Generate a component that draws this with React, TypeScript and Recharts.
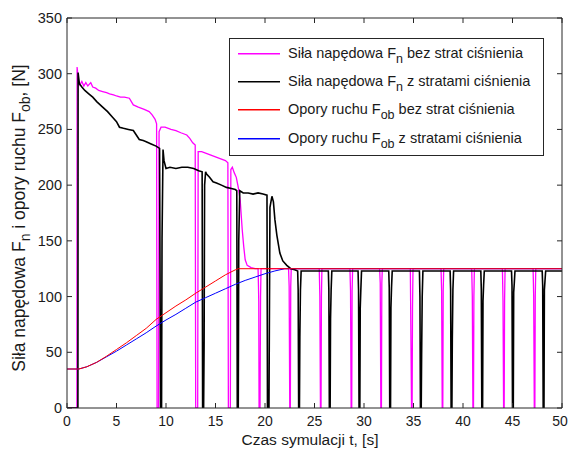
import React from "react";
import { LineChart, Line, XAxis, YAxis, Legend } from "recharts";

const W = 568;
const H = 451;
const FONT = "'Liberation Sans', Arial, sans-serif";
const AXIS = "#262626";

const X_TICKS = [0, 5, 10, 15, 20, 25, 30, 35, 40, 45, 50];
const Y_TICKS = [0, 50, 100, 150, 200, 250, 300, 350];

// [t, F] pairs
const fnBezStrat: [number, number][] = [
  [0, 0], [1.0, 0], [1.02, 306], [1.15, 294], [1.3, 290], [1.5, 293], [1.7, 289], [1.9, 292], [2.1, 289], [2.4, 292],
  [2.6, 288], [2.9, 287], [3.2, 285], [3.6, 284], [4.0, 283], [4.3, 282], [4.7, 281], [5.0, 280], [5.4, 279], [5.8, 279],
  [6.3, 278], [6.5, 275], [6.7, 272], [7.2, 270], [7.8, 268], [8.3, 266], [8.6, 263], [8.9, 259], [9.05, 255],
  [9.1, 0], [9.25, 0], [9.3, 248], [9.5, 252], [9.9, 252], [10.5, 250], [11.0, 249], [11.5, 247], [12.1, 245], [12.4, 242],
  [12.7, 238], [12.95, 236],
  [13.0, 0], [13.2, 0], [13.25, 230], [13.6, 230], [14.2, 228], [14.8, 226], [15.4, 224], [16.0, 222], [16.25, 220],
  [16.3, 0], [16.5, 0], [16.55, 214], [16.7, 216], [16.9, 211], [17.1, 207], [17.3, 198], [17.5, 186], [17.7, 160],
  [17.85, 145], [18.0, 133], [18.2, 128], [18.6, 126], [19.0, 125], [19.3, 125],
  [19.34, 110], [19.37, 95], [19.4, 0], [19.5, 0], [19.55, 100], [19.6, 125],
  [22.38, 125], [22.44, 109], [22.5, 0], [22.56, 0], [22.6, 109], [22.65, 125],
  [25.48, 125], [25.54, 100], [25.6, 0], [25.66, 0], [25.7, 100], [25.75, 125],
  [28.58, 125], [28.64, 105], [28.7, 0], [28.76, 0], [28.8, 105], [28.85, 125],
  [31.58, 125], [31.64, 112], [31.7, 0], [31.76, 0], [31.8, 112], [31.85, 125],
  [34.68, 125], [34.74, 64], [34.8, 0], [34.86, 0], [34.9, 90], [34.95, 125],
  [37.78, 125], [37.84, 105], [37.9, 0], [37.96, 0], [38.0, 105], [38.05, 125],
  [40.88, 125], [40.94, 100], [41.0, 0], [41.06, 0], [41.1, 100], [41.15, 125],
  [43.98, 125], [44.04, 96], [44.1, 0], [44.16, 0], [44.2, 96], [44.25, 125],
  [47.08, 125], [47.14, 100], [47.2, 0], [47.26, 0], [47.3, 100], [47.35, 125],
  [50, 125],
];

const fnZeStratami: [number, number][] = [
  [0, 0], [1.1, 0], [1.12, 301], [1.25, 291], [1.5, 288], [1.8, 285], [2.2, 282], [2.6, 279], [3.0, 275], [3.6, 270],
  [4.1, 266], [4.6, 261], [5.0, 257], [5.3, 252], [5.7, 251], [6.2, 250], [6.7, 249], [7.0, 245], [7.3, 241], [7.7, 240],
  [8.0, 239], [8.5, 237], [9.0, 235], [9.35, 233],
  [9.45, 0], [9.55, 0], [9.6, 152], [9.7, 232], [9.8, 222], [10.0, 215], [10.4, 216], [11.0, 215], [11.6, 216],
  [12.2, 216], [12.8, 215], [13.3, 213], [13.65, 212],
  [13.7, 0], [13.8, 0], [13.85, 60], [13.9, 200], [14.0, 212], [14.1, 210], [14.4, 207], [14.75, 203], [15.1, 202],
  [15.6, 200], [16.1, 198], [16.6, 197], [17.0, 196], [17.15, 195],
  [17.2, 0], [17.3, 0], [17.35, 150], [17.45, 195], [17.8, 193], [18.3, 193], [18.8, 192], [19.3, 193], [19.8, 192],
  [20.2, 191],
  [20.25, 0], [20.4, 0], [20.5, 180], [20.7, 190], [20.85, 185], [21.0, 169], [21.2, 155], [21.5, 139], [21.8, 132],
  [22.2, 128], [22.6, 125], [23.0, 124], [23.3, 123],
  [23.35, 106], [23.4, 0], [23.48, 0], [23.52, 64], [23.58, 106], [23.65, 123],
  [26.4, 123], [26.45, 106], [26.5, 0], [26.58, 0], [26.62, 80], [26.68, 106], [26.75, 123],
  [29.4, 123], [29.45, 106], [29.5, 0], [29.58, 0], [29.62, 90], [29.68, 106], [29.75, 123],
  [32.5, 123], [32.55, 108], [32.6, 0], [32.68, 0], [32.72, 90], [32.78, 108], [32.85, 123],
  [35.6, 123], [35.65, 100], [35.7, 0], [35.78, 0], [35.82, 48], [35.88, 100], [35.95, 123],
  [38.7, 123], [38.75, 106], [38.8, 0], [38.88, 0], [38.92, 62], [38.98, 106], [39.05, 123],
  [41.8, 123], [41.85, 106], [41.9, 0], [41.98, 0], [42.02, 96], [42.08, 110], [42.15, 123],
  [44.9, 123], [44.95, 110], [45.0, 0], [45.08, 0], [45.12, 104], [45.18, 112], [45.25, 123],
  [48.0, 123], [48.05, 110], [48.1, 0], [48.18, 0], [48.22, 106], [48.28, 114], [48.35, 123],
  [50, 123],
];

const fobBezStrat: [number, number][] = [
  [0, 35], [1.2, 35], [2, 37], [3, 41], [4, 46.5], [5, 52.5], [6, 58.5], [7, 65], [8, 71.5], [9, 79.5],
  [10, 85.5], [11, 91.5], [12, 97], [13, 103], [14, 108.5], [15, 114], [16, 119.5], [17, 124], [17.3, 125], [50, 125],
];

const fobZeStratami: [number, number][] = [
  [0, 35], [1.2, 35], [2, 37], [3, 41], [4, 46], [5, 51], [6, 56.5], [7, 62], [8, 67.5], [9, 73.5],
  [10, 79], [11, 84], [12, 89.5], [13, 95], [14, 99], [15, 103], [16, 107], [17, 111], [18, 114.5], [19, 117.5],
  [20, 120.5], [21, 123], [22, 125], [50, 125],
];

const pts = (a: [number, number][]) => a.map(([t, v]) => ({ t, v }));

// legend order (as in the figure)
const SERIES = [
  { key: "fnBez", color: "#ff00ff", pre: "Siła napędowa F", sub: "n", post: " bez strat ciśnienia", data: fnBezStrat, width: 1.3 },
  { key: "fnZe", color: "#000000", pre: "Siła napędowa F", sub: "n", post: " z stratami ciśnienia", data: fnZeStratami, width: 1.6 },
  { key: "fobBez", color: "#ff0000", pre: "Opory ruchu F", sub: "ob", post: " bez strat ciśnienia", data: fobBezStrat, width: 1 },
  { key: "fobZe", color: "#0000ff", pre: "Opory ruchu F", sub: "ob", post: " z stratami ciśnienia", data: fobZeStratami, width: 1 },
];
// drawing order: red on top of blue
const DRAW = [SERIES[0], SERIES[1], SERIES[3], SERIES[2]];

const BottomTick = (p: any) => {
  const last = p.payload.value === 50;
  return (
    <g>
      <line x1={p.x} y1={p.y} x2={p.x} y2={p.y - 5} stroke={AXIS} />
      <text x={last ? p.x - 2 : p.x} y={p.y + 18} textAnchor="middle" fontSize={14} fontFamily={FONT} fill="#1a1a1a">
        {p.payload.value}
      </text>
    </g>
  );
};
const TopTick = (p: any) => <line x1={p.x} y1={p.y} x2={p.x} y2={p.y + 5} stroke={AXIS} />;
const LeftTick = (p: any) => (
  <g>
    <line x1={p.x} y1={p.y} x2={p.x + 5} y2={p.y} stroke={AXIS} />
    <text x={p.x - 5} y={p.y + 5} textAnchor="end" fontSize={14.5} fontFamily={FONT} fill="#1a1a1a">
      {p.payload.value}
    </text>
  </g>
);
const RightTick = (p: any) => <line x1={p.x} y1={p.y} x2={p.x - 5} y2={p.y} stroke={AXIS} />;

const XTitle = () => (
  <text x={310} y={445} textAnchor="middle" fontSize={15.5} fontFamily={FONT} fill="#1a1a1a">
    Czas symulacji t, [s]
  </text>
);

const YTitle = () => (
  <text transform="translate(25,218) rotate(-90)" textAnchor="middle" fontSize={17.5} fontFamily={FONT} fill="#1a1a1a">
    Siła napędowa F<tspan dy={5} fontSize={14}>n</tspan>
    <tspan dy={-5}> i opory ruchu F</tspan>
    <tspan dy={5} fontSize={14}>ob</tspan>
    <tspan dy={-5}>, [N]</tspan>
  </text>
);

const LegendBox = () => (
  <svg width={316} height={119} style={{ display: "block" }}>
    <rect x={0.5} y={0.5} width={314} height={117} fill="#fff" stroke={AXIS} />
    {SERIES.map((s, i) => {
      const ly = Math.round(15 + 28.2 * i);
      return (
        <g key={s.key}>
          <rect x={9} y={ly} width={42} height={1.5} fill={s.color} />
          <text x={59} y={ly + 4.5} fontSize={14.5} fontFamily={FONT} fill="#1a1a1a">
            {s.pre}
            <tspan dy={5} fontSize={12.5}>{s.sub}</tspan>
            <tspan dy={-5}>{s.post}</tspan>
          </text>
        </g>
      );
    })}
  </svg>
);

export default function App() {
  return (
    <div style={{ position: "absolute", left: 0, top: 0, width: W, height: H, background: "#fff" }}>
      <LineChart width={W} height={H} margin={{ top: 17, right: 5, bottom: 0, left: 0 }}>
        <XAxis
          dataKey="t"
          type="number"
          domain={[0, 50]}
          ticks={X_TICKS}
          interval={0}
          allowDataOverflow
          height={43}
          tickSize={0}
          tickMargin={0}
          tick={<BottomTick />}
          stroke={AXIS}
          label={{ content: <XTitle /> }}
        />
        <XAxis
          xAxisId="top"
          orientation="top"
          dataKey="t"
          type="number"
          domain={[0, 50]}
          ticks={X_TICKS}
          interval={0}
          allowDataOverflow
          height={1}
          tickSize={0}
          tickMargin={0}
          tick={<TopTick />}
          stroke={AXIS}
        />
        <YAxis
          type="number"
          domain={[0, 350]}
          ticks={Y_TICKS}
          interval={0}
          allowDataOverflow
          width={67}
          tickSize={0}
          tickMargin={0}
          tick={<LeftTick />}
          stroke={AXIS}
          label={{ content: <YTitle /> }}
        />
        <YAxis
          yAxisId="right"
          orientation="right"
          type="number"
          domain={[0, 350]}
          ticks={Y_TICKS}
          interval={0}
          allowDataOverflow
          width={1}
          tickSize={0}
          tickMargin={0}
          tick={<RightTick />}
          stroke={AXIS}
        />
        {DRAW.map((s) => (
          <Line
            key={s.key}
            data={pts(s.data)}
            dataKey="v"
            name={s.pre + s.sub + s.post}
            type="linear"
            stroke={s.color}
            strokeWidth={s.width}
            dot={false}
            activeDot={false}
            isAnimationActive={false}
          />
        ))}
        <Legend
          layout="horizontal"
          verticalAlign="middle"
          align="center"
          content={<LegendBox />}
          wrapperStyle={{ left: 229, top: 38, width: 316, height: 119 }}
        />
      </LineChart>
    </div>
  );
}
